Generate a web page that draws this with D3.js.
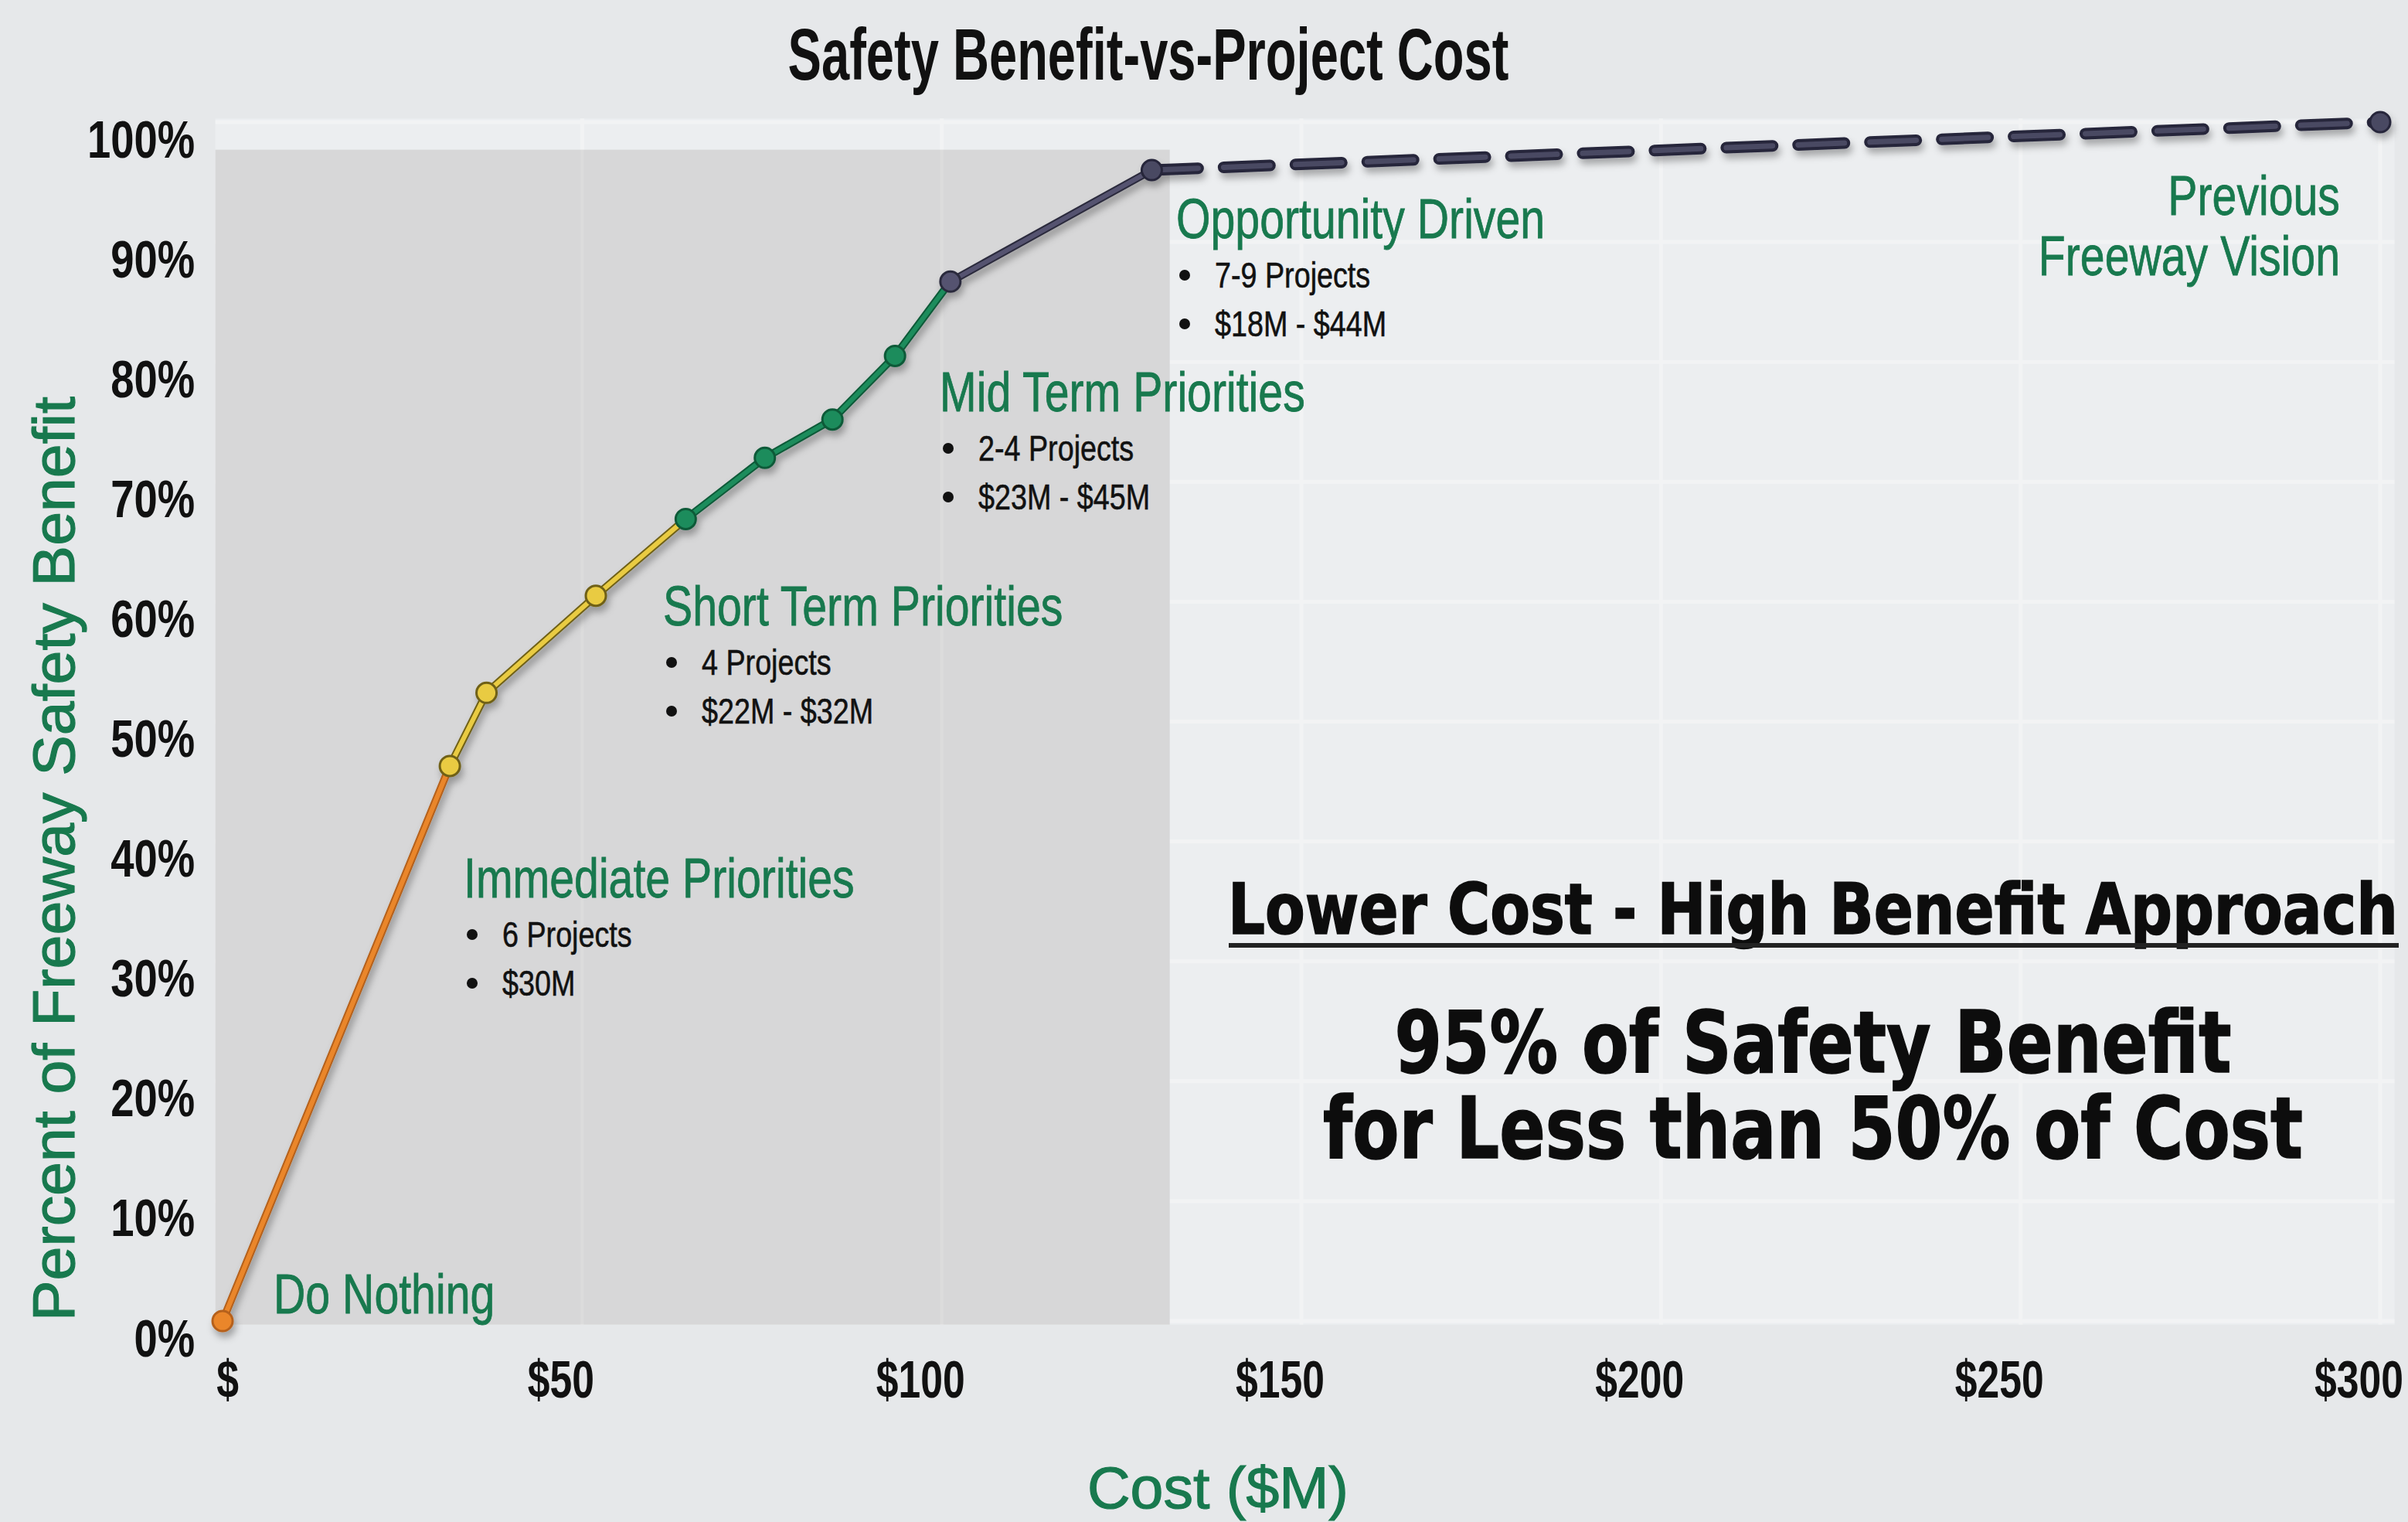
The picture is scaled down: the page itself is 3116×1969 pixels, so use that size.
<!DOCTYPE html>
<html><head><meta charset="utf-8">
<script src="https://cdn.jsdelivr.net/npm/d3@7"></script>
<style>html,body{margin:0;padding:0;background:#e7e9eb;} svg{display:block}</style>
</head><body>
<svg id="c" width="3116" height="1969"></svg>
<script>
// ---------------- DATA ----------------
const cost    = [0, 31.6, 36.7, 51.9, 64.4, 75.4, 84.8, 93.5, 101.2, 129.2, 300];
const benefit = [0, 46.3, 52.4, 60.5, 66.9, 72.0, 75.2, 80.5, 86.7, 96.0, 100];
const segmentPhase = ["immediate","short","short","short","mid","mid","mid","mid","opportunity","vision"];
const pointPhase   = ["immediate","short","short","short","mid","mid","mid","mid","opportunity","vision","vision"];
const xTicks = [0, 50, 100, 150, 200, 250, 300];
const xTickLabels = ["$", "$50", "$100", "$150", "$200", "$250", "$300"];
const yTicks = [0, 10, 20, 30, 40, 50, 60, 70, 80, 90, 100];
const yTickLabels = ["0%","10%","20%","30%","40%","50%","60%","70%","80%","90%","100%"];
const shadeCost = [-1, 131.7];
const shadeBenefit = [-0.3, 97.7];
const plotCost = [-1, 302];
const plotBenefit = [-0.3, 100.3];
const phaseNames = ["Do Nothing","Immediate Priorities","Short Term Priorities","Mid Term Priorities","Opportunity Driven"];
const phaseProjects = [null,"6 Projects","4 Projects","2-4 Projects","7-9 Projects"];
const phaseCosts = [null,"$30M","$22M - $32M","$23M - $45M","$18M - $44M"];
const visionLines = ["Previous","Freeway Vision"];
const titleText = "Safety Benefit-vs-Project Cost";
const xTitle = "Cost ($M)";
const yTitle = "Percent of Freeway Safety Benefit";
const callout = ["Lower Cost - High Benefit Approach","95% of Safety Benefit","for Less than 50% of Cost"];

// ---------------- STYLE / LAYOUT ----------------
const W = 3116, H = 1969;
const GREEN_TXT = "#18794e";
const SANS = "'Liberation Sans',Arial,sans-serif";
const phaseStyle = {
  immediate:   {inner:"#ea862c", outer:"#b5611a"},
  short:       {inner:"#e9cb43", outer:"#6f6118"},
  mid:         {inner:"#1e8c5c", outer:"#0d5a39"},
  opportunity: {inner:"#55536f", outer:"#2b2a3c"},
  vision:      {inner:"#4a4862", outer:"#26253a"}
};
const headingPos = [[354,1699],[600,1161],[858,809],[1216,532],[1522,308]];

const svg = d3.select("#c");
svg.append("rect").attr("width",W).attr("height",H).attr("fill","#e6e8ea");

const defs = svg.append("defs");
const f = defs.append("filter").attr("id","sh").attr("x","-20%").attr("y","-20%").attr("width","140%").attr("height","140%");
f.append("feDropShadow").attr("dx",3).attr("dy",7).attr("stdDeviation",5).attr("flood-color","#000").attr("flood-opacity",0.3);

const x = d3.scaleLinear().domain([0,300]).range([288,3080]);
const y = d3.scaleLinear().domain([0,100]).range([1709,158]);

// squeeze a text horizontally (emulates the narrow face of the original) with a scaleX transform
function squeeze(sel, k){
  sel.each(function(){
    const t = d3.select(this);
    const xx = +t.attr("x") || 0;
    t.attr("x", xx / k);
    const dx = t.attr("dx");
    if (dx) t.attr("dx", parseFloat(dx) / k);
    t.attr("transform", `scale(${k},1)`);
  });
}
// squeeze to an exact target width
function fitWidth(sel, target){
  sel.each(function(){
    const L = this.getComputedTextLength();
    squeeze(d3.select(this), target / L);
  });
}

// plot area
svg.append("rect")
  .attr("x", x(plotCost[0])).attr("y", y(plotBenefit[1]))
  .attr("width", x(plotCost[1]) - x(plotCost[0]))
  .attr("height", y(plotBenefit[0]) - y(plotBenefit[1]))
  .attr("fill","#eceef0");

// gridlines (under shade)
const grid = svg.append("g").attr("stroke","#f7f8f9").attr("stroke-width",5).attr("opacity",0.55);
grid.selectAll("line.h").data(yTicks).join("line")
  .attr("x1", x(plotCost[0])).attr("x2", x(plotCost[1]))
  .attr("y1", d=>y(d)).attr("y2", d=>y(d));
grid.selectAll("line.v").data(xTicks.slice(1)).join("line")
  .attr("x1", d=>x(d)).attr("x2", d=>x(d))
  .attr("y1", y(plotBenefit[0])).attr("y2", y(plotBenefit[1]));

// shaded region
svg.append("rect")
  .attr("x", x(shadeCost[0])).attr("y", y(shadeBenefit[1]))
  .attr("width", x(shadeCost[1]) - x(shadeCost[0]))
  .attr("height", y(shadeBenefit[0]) - y(shadeBenefit[1]))
  .attr("fill","#d7d7d8");
// faint gridlines inside shade
const grid2 = svg.append("g").attr("stroke","#ffffff").attr("stroke-width",4).attr("opacity",0.12);
grid2.selectAll("line").data(xTicks.slice(1).filter(d=>d<shadeCost[1])).join("line")
  .attr("x1", d=>x(d)).attr("x2", d=>x(d))
  .attr("y1", y(shadeBenefit[0])).attr("y2", y(shadeBenefit[1]));

// title
svg.append("text").text(titleText)
  .attr("x",1486).attr("y",103).attr("text-anchor","middle")
  .attr("font-family",SANS).attr("font-weight","bold").attr("font-size",95).attr("fill","#111")
  .call(squeeze,0.685);

// axes
const xAxis = svg.append("g").attr("transform",`translate(0,${y(0)})`)
  .call(d3.axisBottom(x).tickValues(xTicks).tickFormat((d,i)=>xTickLabels[i]).tickSize(0));
xAxis.select(".domain").remove();
xAxis.selectAll("text").attr("y",99).attr("dy",0).attr("dx",(d,i)=> i===0 ? 6 : -28)
  .attr("font-family",SANS).attr("font-weight","bold").attr("font-size",68).attr("fill","#111")
  .call(squeeze,0.76);

const yAxis = svg.append("g").attr("transform",`translate(${x(0)},0)`)
  .call(d3.axisLeft(y).tickValues(yTicks).tickFormat((d,i)=>yTickLabels[i]).tickSize(0).tickPadding(36));
yAxis.select(".domain").remove();
yAxis.selectAll("text").attr("dy",0).attr("y",45)
  .attr("font-family",SANS).attr("font-weight","bold").attr("font-size",68).attr("fill","#111")
  .call(squeeze,0.8);

// axis titles
svg.append("text").text(xTitle)
  .attr("x",1576).attr("y",1951).attr("text-anchor","middle")
  .attr("font-family",SANS).attr("font-size",76).attr("fill",GREEN_TXT)
  .attr("stroke",GREEN_TXT).attr("stroke-width",1.2)
  .attr("textLength",338).attr("lengthAdjust","spacingAndGlyphs");
svg.append("text").text(yTitle)
  .attr("transform","translate(96,1111) rotate(-90)").attr("text-anchor","middle")
  .attr("font-family",SANS).attr("font-size",76).attr("fill",GREEN_TXT)
  .attr("stroke",GREEN_TXT).attr("stroke-width",1.2)
  .attr("textLength",1196).attr("lengthAdjust","spacingAndGlyphs");

// curve
const segs = d3.range(cost.length-1).map(i=>({i, phase:segmentPhase[i]}));
const lineG = svg.append("g").attr("filter","url(#sh)");
lineG.selectAll("line.o").data(segs).join("line")
  .attr("x1",d=>x(cost[d.i])).attr("y1",d=>y(benefit[d.i]))
  .attr("x2",d=>x(cost[d.i+1])).attr("y2",d=>y(benefit[d.i+1]))
  .attr("stroke",d=>phaseStyle[d.phase].outer)
  .attr("stroke-width",d=>d.phase==="vision"?15:10)
  .attr("stroke-linecap","round")
  .attr("stroke-dasharray",d=>d.phase==="vision"?"60,33":null);
lineG.selectAll("line.i").data(segs).join("line")
  .attr("x1",d=>x(cost[d.i])).attr("y1",d=>y(benefit[d.i]))
  .attr("x2",d=>x(cost[d.i+1])).attr("y2",d=>y(benefit[d.i+1]))
  .attr("stroke",d=>phaseStyle[d.phase].inner)
  .attr("stroke-width",d=>d.phase==="vision"?7:6)
  .attr("stroke-linecap","round")
  .attr("stroke-dasharray",d=>d.phase==="vision"?"60,33":null);
lineG.selectAll("circle").data(cost).join("circle")
  .attr("cx",(d,i)=>x(cost[i])).attr("cy",(d,i)=>y(benefit[i])).attr("r",13)
  .attr("fill",(d,i)=>phaseStyle[pointPhase[i]].inner)
  .attr("stroke",(d,i)=>phaseStyle[pointPhase[i]].outer).attr("stroke-width",3);

// phase annotations
const ann = svg.append("g");
phaseNames.forEach((name,i)=>{
  const [hx,hy] = headingPos[i];
  ann.append("text").text(name).attr("x",hx).attr("y",hy)
    .attr("font-family",SANS).attr("font-size",72).attr("fill",GREEN_TXT)
    .attr("stroke",GREEN_TXT).attr("stroke-width",0.8)
    .call(squeeze,0.795);
  [phaseProjects[i], phaseCosts[i]].forEach((t,j)=>{
    if(!t) return;
    const by = hy + (j===0?64:127);
    ann.append("circle").attr("cx",hx+11).attr("cy",by-16).attr("r",7).attr("fill","#111");
    ann.append("text").text(t).attr("x",hx+50).attr("y",by)
      .attr("font-family",SANS).attr("font-size",46).attr("fill","#111")
      .attr("stroke","#111").attr("stroke-width",0.6)
      .call(squeeze,0.82);
  });
});
visionLines.forEach((t,j)=>{
  ann.append("text").text(t).attr("x",3028).attr("y",j===0?278:356).attr("text-anchor","end")
    .attr("font-family",SANS).attr("font-size",72).attr("fill",GREEN_TXT)
    .attr("stroke",GREEN_TXT).attr("stroke-width",0.8)
    .call(squeeze,0.795);
});

// callout
const CALL = "'DejaVu Sans Condensed','DejaVu Sans',sans-serif";
const callSpec = [
  {y:1208, size:90, len:1514},
  {y:1387, size:110, len:1083},
  {y:1498, size:110, len:1268}
];
callout.forEach((t,i)=>{
  svg.append("text").text(t).attr("x",2346).attr("y",callSpec[i].y).attr("text-anchor","middle")
    .attr("font-family",CALL).attr("font-weight","bold").attr("font-stretch","condensed")
    .attr("font-size",callSpec[i].size).attr("fill","#0d0d0d")
    .attr("stroke","#0d0d0d").attr("stroke-width",1.5)
    .call(fitWidth, callSpec[i].len);
});
svg.append("line").attr("x1",1590).attr("x2",3104).attr("y1",1223).attr("y2",1223)
  .attr("stroke","#222").attr("stroke-width",6);
</script>
</body></html>
